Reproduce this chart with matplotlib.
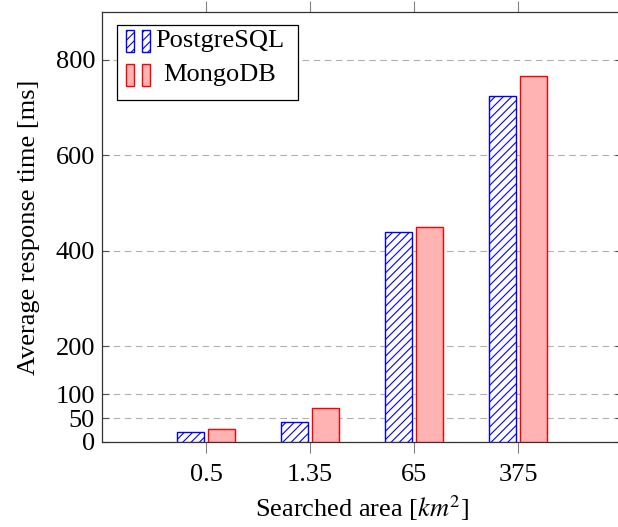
import matplotlib as mpl
mpl.use("Agg")
import matplotlib.pyplot as plt
from matplotlib.patches import Rectangle

# data
areas = ["0.5", "1.35", "65", "375"]
postgres_ms = [20, 41, 440, 725]
mongo_ms = [27, 71, 450, 765]
y_ticks = [0, 50, 100, 200, 400, 600, 800]
series_names = ["PostgreSQL", "MongoDB"]

PG_STYLE = dict(facecolor="white", edgecolor="blue", hatch="////", lw=1.0)
MG_STYLE = dict(facecolor="#ffb3b3", edgecolor="red", lw=1.0)
FS = 19

plt.rcParams["font.family"] = ["Liberation Serif", "DejaVu Serif"]
plt.rcParams["mathtext.fontset"] = "stix"
plt.rcParams["hatch.linewidth"] = 0.8
plt.rcParams["hatch.color"] = "blue"

fig = plt.figure(figsize=(6.18, 5.27), dpi=100)
# right spine sits just past the image edge, as in the reference
ax = fig.add_axes([0.165, 0.1613, 0.8415, 0.816])

pos = list(range(1, len(areas) + 1))
w = 0.26
ax.bar([p - 0.15 for p in pos], postgres_ms, width=w, zorder=3, **PG_STYLE)
ax.bar([p + 0.15 for p in pos], mongo_ms, width=w, zorder=3, **MG_STYLE)

ax.set_xlim(0, 5)
ax.set_ylim(0, 900)
ax.set_xticks(pos)
ax.set_xticklabels(areas)
ax.set_yticks(y_ticks)
ax.yaxis.grid(True, color="#b0b0b0", ls=(0, (6, 4)), lw=0.8)
ax.set_axisbelow(True)

ax.tick_params(axis="x", direction="out", top=True, color="#808080", length=8,
               width=0.8, labelsize=FS, pad=8)
ax.tick_params(axis="y", direction="in", right=True, color="#505050", length=5,
               width=0.8, labelsize=FS, pad=5)
for s in ax.spines.values():
    s.set_color("#333333")
    s.set_linewidth(0.9)

ax.set_xlabel("Searched area [$km^2$]", fontsize=FS, labelpad=5)
ax.set_ylabel("Average response time [ms]", fontsize=FS, labelpad=11)

# pgfplots-style legend drawn by hand: two thin bars per entry, centred text
ax.add_patch(Rectangle((0.0288, 0.7953), 0.3481, 0.1745, transform=ax.transAxes,
                       facecolor="white", edgecolor="black", lw=0.9, zorder=5))
for yb, style, name, yt in [(0.907, PG_STYLE, series_names[0], 0.9326),
                            (0.828, MG_STYLE, series_names[1], 0.8535)]:
    for xb in (0.046, 0.0769):
        ax.add_patch(Rectangle((xb, yb), 0.0154, 0.0512, transform=ax.transAxes,
                               zorder=6, **style))
    ax.text(0.226, yt, name, transform=ax.transAxes, ha="center", va="center",
            fontsize=FS, zorder=7)

fig.savefig("out.png", dpi=100)
